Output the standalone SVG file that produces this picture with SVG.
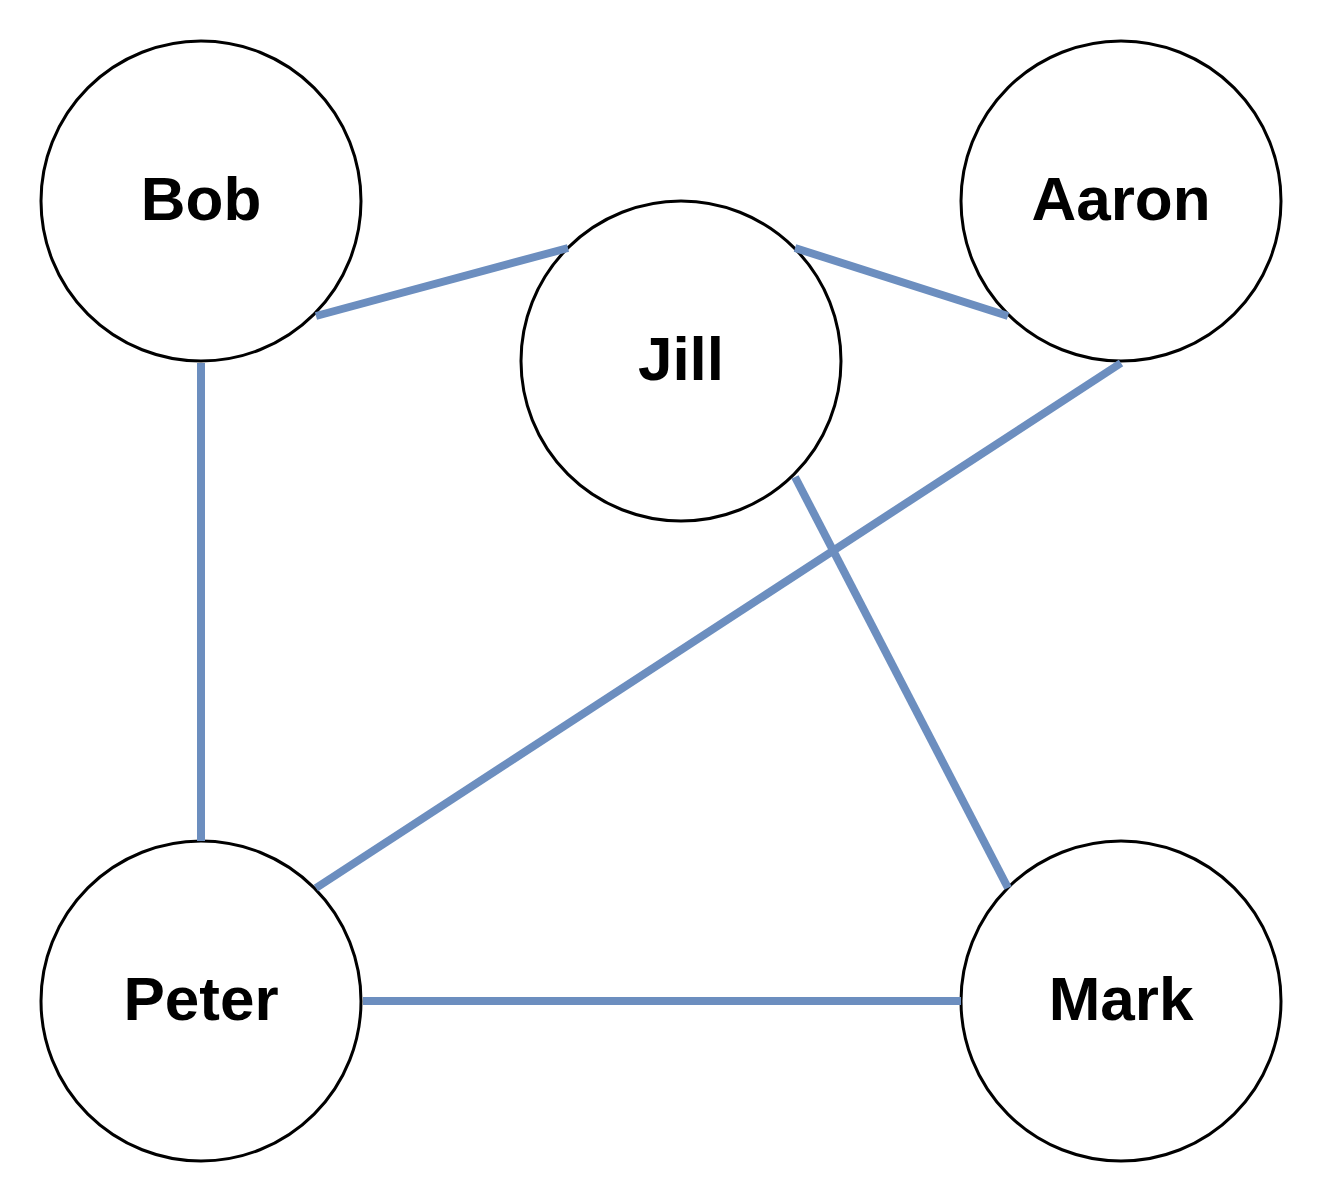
<svg xmlns="http://www.w3.org/2000/svg" width="1324" height="1204" viewBox="0 0 1324 1204">
<style>
.node circle{fill:#fff;stroke:#000;stroke-width:3}
.node text{font-family:"Liberation Sans",Arial,sans-serif;font-weight:bold;font-size:62px;text-anchor:middle;fill:#000}
.edges line{stroke:#6c8ebf;stroke-width:8}
</style>
<rect width="1324" height="1204" fill="#fff"/>
<g id="Bob" class="node"><circle cx="201" cy="201" r="160"/><text x="201" y="220">Bob</text></g>
<g id="Jill" class="node"><circle cx="681" cy="361" r="160"/><text x="681" y="380">Jill</text></g>
<g id="Aaron" class="node"><circle cx="1121" cy="201" r="160"/><text x="1121" y="220">Aaron</text></g>
<g id="Peter" class="node"><circle cx="201" cy="1001" r="160"/><text x="201" y="1020">Peter</text></g>
<g id="Mark" class="node"><circle cx="1121" cy="1001" r="160"/><text x="1121" y="1020">Mark</text></g>
<g id="edges" class="edges">
<line x1="316" y1="316" x2="568" y2="248"/>
<line x1="795" y1="248" x2="1008" y2="316"/>
<line x1="1121" y1="363" x2="316" y2="888"/>
<line x1="795" y1="477" x2="1008" y2="888"/>
<line x1="201" y1="363" x2="201" y2="841"/>
<line x1="363" y1="1001" x2="961" y2="1001"/>
</g>
</svg>
